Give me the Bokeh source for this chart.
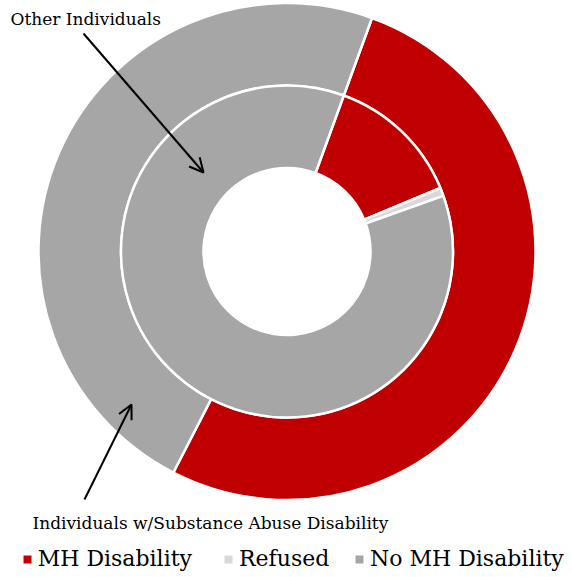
import math
from bokeh.plotting import figure
from bokeh.models import ColumnDataSource, Range1d, Arrow, OpenHead, Legend, LegendItem
from bokeh.core.properties import value
from bokeh.embed import file_html
from bokeh.resources import INLINE

# ---- data ----
categories = ["MH Disability", "Refused", "No MH Disability"]
outer_pct = [52.0, 0.0, 48.0]   # Individuals w/Substance Abuse Disability
inner_pct = [13.2, 0.8, 86.0]   # Other Individuals
colors = ["#C00000", "#D9D9D9", "#A6A6A6"]
ring_labels = ["Individuals w/Substance Abuse Disability", "Other Individuals"]

# ---- layout constants (data units == screen pixels) ----
W, H = 570, 575
CX, CY = 286.5, H - 251.0
R_OUT, R_MID, R_IN = 248.5, 166.0, 83.5
ROT = 20.0 / 360.0
FONT = "DejaVu Serif"
LEGEND_X = [21.7, 223.0, 354.0]

p = figure(width=W, height=H, output_backend="svg", toolbar_location=None,
           x_range=Range1d(0, W), y_range=Range1d(0, H), min_border=0)
p.axis.visible = False
p.grid.visible = False
p.outline_line_color = None


def wedges(pcts, r0, r1):
    tot = sum(pcts)
    s, e, c, cum = [], [], [], 0.0
    for v, col in zip(pcts, colors):
        a0 = math.pi / 2 - 2 * math.pi * (ROT + cum / tot)
        cum += v
        a1 = math.pi / 2 - 2 * math.pi * (ROT + cum / tot)
        if v <= 0:
            continue
        s.append(a0)
        e.append(a1)
        c.append(col)
    src = ColumnDataSource(dict(x=[CX] * len(s), y=[CY] * len(s),
                                start=s, end=e, color=c))
    p.annular_wedge(x="x", y="y", inner_radius=r0, outer_radius=r1,
                    start_angle="start", end_angle="end", direction="clock",
                    fill_color="color", line_color="white", line_width=2.5,
                    source=src)


wedges(outer_pct, R_MID, R_OUT)
wedges(inner_pct, R_IN, R_MID)


def px(x, y):
    return x, H - y


tx, ty = px(10, 18)
p.text(x=[tx], y=[ty], text=[ring_labels[1]], text_font=value(FONT),
       text_font_size="17px", text_baseline="middle", text_align="left", text_color="black")
tx, ty = px(32, 522)
p.text(x=[tx], y=[ty], text=[ring_labels[0]], text_font=value(FONT),
       text_font_size="17px", text_baseline="middle", text_align="left", text_color="black")

a0 = px(83, 33); a1 = px(203, 172)
p.add_layout(Arrow(end=OpenHead(size=14, line_width=2), x_start=a0[0], y_start=a0[1],
                   x_end=a1[0], y_end=a1[1], line_width=2))
b0 = px(84, 499); b1 = px(131, 404)
p.add_layout(Arrow(end=OpenHead(size=14, line_width=2), x_start=b0[0], y_start=b0[1],
                   x_end=b1[0], y_end=b1[1], line_width=2))

# legend (one single-item legend per category, dummy renderers off-screen)
for c, col, lx in zip(categories, colors, LEGEND_X):
    r = p.quad(left=[-50], right=[-40], top=[-40], bottom=[-50], fill_color=col, line_color=None)
    leg = Legend(items=[LegendItem(label=c, renderers=[r])], orientation="horizontal",
                 location=(lx, 4),
                 label_text_font=FONT, label_text_font_size="22px", label_text_color="black",
                 glyph_width=10, glyph_height=10, label_standoff=6, spacing=0,
                 padding=0, margin=0, border_line_color=None, background_fill_alpha=0,
                 label_height=22)
    p.add_layout(leg, "center")

open("out.html", "w").write(file_html(p, INLINE))
